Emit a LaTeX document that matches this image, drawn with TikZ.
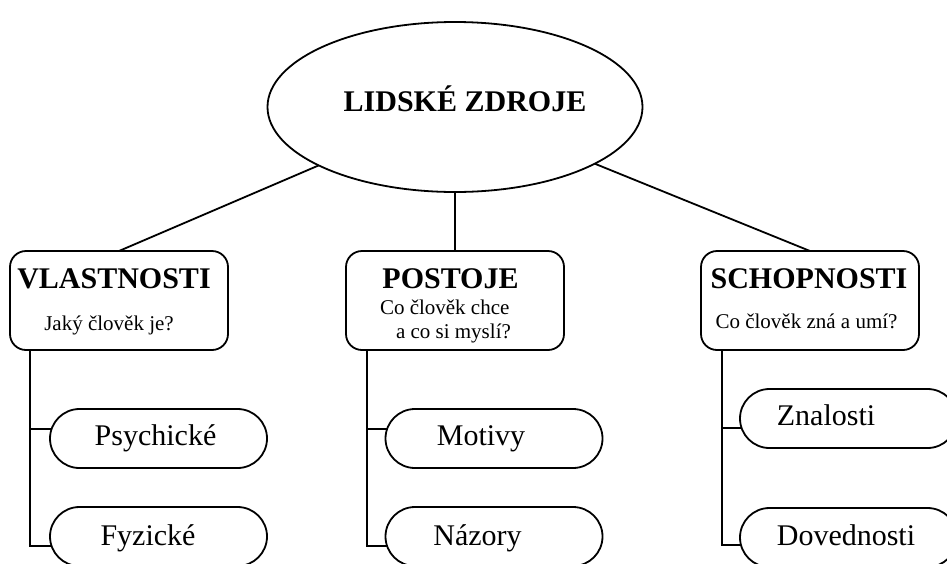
\documentclass[tikz,border=0pt]{standalone}
\usepackage{fontspec}
\setmainfont{Liberation Serif}
\usetikzlibrary{shapes.geometric,shapes.misc}
\begin{document}
\begin{tikzpicture}[x=1pt,y=-1pt,
  line width=1.8pt,
  every node/.style={inner sep=0pt, outer sep=0pt},
  hubshape/.style={draw, ellipse, minimum width=375pt, minimum height=170pt},
  groupbox/.style={draw, rectangle, rounded corners=16pt, minimum width=218pt, minimum height=99pt},
  leafpill/.style={draw, rounded rectangle, minimum width=217pt, minimum height=59pt},
  headtext/.style={font=\bfseries\fontsize{30}{36}\selectfont, anchor=base},
  asktext/.style={font=\fontsize{21}{24}\selectfont, anchor=base},
  leaftext/.style={font=\fontsize{30}{36}\selectfont, anchor=base},
]
\useasboundingbox (0,0) rectangle (947,563);

% central topic
\node[hubshape] (lz) at (455,107) {};
\node[headtext] (lztext) at (465,111) {LIDSKÉ ZDROJE};

% three groups
\node[groupbox] (v) at (119,300.5) {};
\node[headtext] (vtitle) at (114,288) {VLASTNOSTI};
\node[asktext] (vask) at (109,330) {Jaký člověk je?};

\node[groupbox] (p) at (455,300.5) {};
\node[headtext] (ptitle) at (450.5,288) {POSTOJE};
\node[asktext, anchor=base west] (pask1) at (380,314) {Co člověk chce};
\node[asktext, anchor=base west] (pask2) at (396,338) {a co si myslí?};

\node[groupbox] (s) at (810,300.5) {};
\node[headtext] (stitle) at (809,288) {SCHOPNOSTI};
\node[asktext] (sask) at (806.5,328) {Co člověk zná a umí?};

% leaves
\node[leafpill] (psy) at (158.5,438.5) {};
\node[leaftext] (psytext) at (155.5,445) {Psychické};
\node[leafpill] (fyz) at (158.5,536.5) {};
\node[leaftext] (fyztext) at (148,545) {Fyzické};

\node[leafpill] (mot) at (494,438.5) {};
\node[leaftext] (mottext) at (481,445) {Motivy};
\node[leafpill] (naz) at (494,536.5) {};
\node[leaftext] (naztext) at (477.5,545) {Názory};

\node[leafpill] (zn) at (848.5,418.5) {};
\node[leaftext] (zntext) at (826,425) {Znalosti};
\node[leafpill] (dov) at (848.5,537.5) {};
\node[leaftext] (dovtext) at (846,545) {Dovednosti};

% connectors from the topic to the groups
\draw (lz) -- (v.north);
\draw (lz) -- (p.north);
\draw (lz) -- (s.north);

% stems from the groups to their leaves
\coordinate (vstem) at ([xshift=20pt]v.south west);
\coordinate (pstem) at ([xshift=21pt]p.south west);
\coordinate (sstem) at ([xshift=21pt]s.south west);
\draw (vstem) |- (psy.175);
\draw (vstem) |- (fyz.185);
\draw (pstem) |- (mot.175);
\draw (pstem) |- (naz.185);
\draw (sstem) |- (zn.185.5);
\draw (sstem) |- (dov.184.5);
\end{tikzpicture}
\end{document}
